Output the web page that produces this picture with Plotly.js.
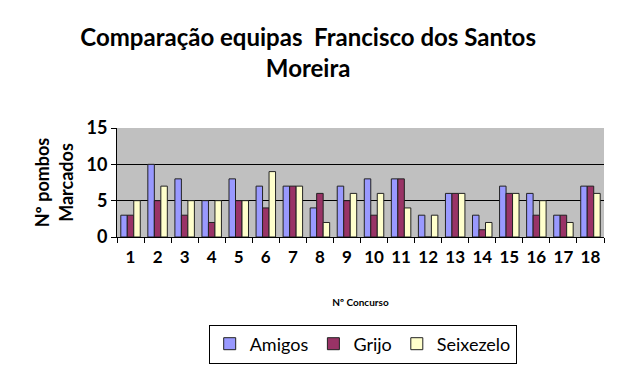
<!DOCTYPE html>
<html>
<head>
<meta charset="utf-8">
<script src="https://cdn.plot.ly/plotly-3.0.1.min.js"></script>
<style>html,body{margin:0;padding:0;background:#fff;}#chart{width:620px;height:371px;}</style>
</head>
<body>
<div id="chart"></div>
<script>
var categories = ['1','2','3','4','5','6','7','8','9','10','11','12','13','14','15','16','17','18'];
var amigos    = [3,10,8,5,8,7,7,4,7,8,8,3,6,3,7,6,3,7];
var grijo     = [3,5,3,2,5,4,7,6,5,3,8,0,6,1,6,3,3,7];
var seixezelo = [5,7,5,5,5,9,7,2,6,6,4,3,6,2,6,5,2,6];
var seriesNames = ['Amigos','Grijo','Seixezelo'];
var seriesColors = ['#9999FF','#993366','#FFFFCC'];
var seriesData = [amigos, grijo, seixezelo];

var FONT = 'Lato, "Liberation Sans", sans-serif';
var traces = seriesData.map(function(vals, i){
  return {
    type:'bar', name: seriesNames[i], x: categories, y: vals,
    marker:{color: seriesColors[i], line:{color:'#222', width:1}}
  };
});

var layout = {
  width:620, height:371,
  paper_bgcolor:'#ffffff', plot_bgcolor:'#C0C0C0',
  margin:{l:117, r:16, t:128, b:134},
  barmode:'group', bargap:0.28, bargroupgap:0,
  font:{family:FONT, color:'#000'},
  title:{text:'Comparação equipas &nbsp;Francisco dos Santos<br>Moreira',
    font:{family:FONT, size:24, color:'#000', weight:'bold'},
    x:0.497, xref:'container', xanchor:'center',
    y:1-46/371, yref:'container', yanchor:'middle'},
  xaxis:{type:'category', tickson:'boundaries', ticks:'outside', ticklen:5, tickcolor:'#000',
    tickangle:0, ticklabelstandoff:5,
    showline:true, linecolor:'#000', linewidth:1, showgrid:false,
    tickfont:{family:FONT, size:17, weight:'bold'},
    title:{text:'Nº Concurso', font:{family:FONT, size:10, weight:'bold'}, standoff:32}},
  yaxis:{range:[0,15], dtick:5, ticks:'outside', ticklen:5, tickcolor:'#000',
    showline:true, linecolor:'#000', linewidth:1,
    showgrid:true, gridcolor:'#000', gridwidth:1, zeroline:false,
    tickfont:{family:FONT, size:18, weight:'bold'},
    title:{text:'Nº pombos<br>Marcados', font:{family:FONT, size:18, weight:'bold'}, standoff:8}},
  showlegend:true,
  legend:{orientation:'h', x:0.585, xref:'container', xanchor:'center',
    y:1-344/371, yref:'container', yanchor:'middle',
    bordercolor:'#000', borderwidth:1, bgcolor:'#fff',
    font:{family:FONT, size:18}, itemwidth:30, traceorder:'normal'}
};

Plotly.newPlot('chart', traces, layout, {displayModeBar:false, staticPlot:true});
</script>
</body>
</html>
